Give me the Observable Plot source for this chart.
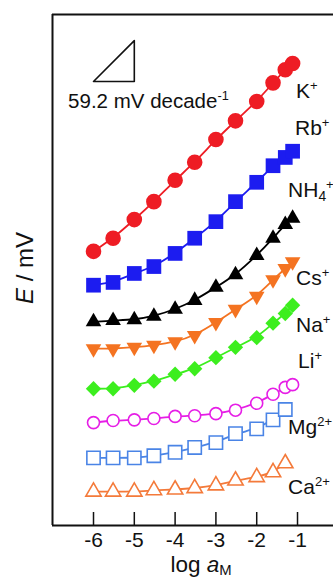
<!DOCTYPE html>
<html><head><meta charset="utf-8">
<script src="https://cdn.jsdelivr.net/npm/d3@7"></script>
<script src="https://cdn.jsdelivr.net/npm/@observablehq/plot@0.6"></script>
<style>
body{margin:0;background:#fff;}
#chart{width:333px;height:580px;overflow:hidden;}
</style>
</head><body><div id="chart"></div>
<script>
// ---- data ----
const logA = [-6, -5.52, -5, -4.52, -4, -3.52, -3, -2.52, -2, -1.6, -1.3, -1.12];
const eK  = [397, 416, 443, 469, 500, 526, 559, 586, 614, 641, 660, 669];
const eRb = [348, 352, 365, 375, 394, 416, 440, 469, 497, 521, 533, 542];
const eNH4 = [295, 297, 298, 303, 313, 326, 345, 363, 391, 416, 436, 445];
const eCs = [256, 256, 258, 261, 266, 275, 294, 313, 332, 356, 372, 382];
const eNa = [198, 198, 203, 209, 219, 227, 243, 258, 272, 293, 307, 319];
const eLi = [149, 152, 153, 155, 158, 159, 162, 167, 177, 190, 200, 204];
const eMg = [98, 98, 98, 101, 106, 113, 120, 133, 140, 153, 168];
const eCa = [49, 49, 49, 51, 52, 54, 58, 65, 70, 77, 90];

const ionBase = ["K", "Rb", "NH", "Cs", "Na", "Li", "Mg", "Ca"];
const ionSub  = ["", "", "4", "", "", "", "", ""];
const ionSup  = ["+", "+", "+", "+", "+", "+", "2+", "2+"];
const labelLogA = [-1.025, -1.05, -1.22, -1.025, -1.025, -0.975, -1.22, -1.22];
const labelE    = [618, 565, 475, 347, 279, 227, 132, 45];

const xTicks = [-6, -5, -4, -3, -2, -1];
const xDomain = [-7.005, -0.118];
const yDomain = [0, 740];
const slope = 59.2;              // mV per decade
const slopeAnchor = [-6, 643];   // lower-left corner of slope triangle
const slopeText = ["59.2 mV decade", "-1"];
const slopeTextPos = [-6.61, 604];

// ---- styles ----
const FONT = "'Liberation Sans', Arial, Helvetica, sans-serif";
const downTri = {
  draw(ctx, size) {
    const y = -Math.sqrt(size / (Math.sqrt(3) * 3));
    ctx.moveTo(0, -y * 2);
    ctx.lineTo(-Math.sqrt(3) * y, y);
    ctx.lineTo(Math.sqrt(3) * y, y);
    ctx.closePath();
  }
};
const series = [
  {v: eK,  color: "#ee1c24", symbol: "circle",   r: 7.8, open: false},
  {v: eRb, color: "#1c1cf0", symbol: "square",   r: 8.3, open: false},
  {v: eNH4, color: "#000000", symbol: "triangle", r: 5.8, open: false},
  {v: eCs, color: "#f47321", symbol: downTri,    r: 5.8, open: false},
  {v: eNa, color: "#3cee1e", symbol: "diamond2", r: 6.9, open: false},
  {v: eLi, color: "#e61ee6", symbol: "circle",   r: 6.0, open: true},
  {v: eMg, color: "#4a84e6", symbol: "square",   r: 7.5, open: true},
  {v: eCa, color: "#f47a3a", symbol: "triangle", r: 5.7, open: true}
];

const marks = [];
// frame (top, bottom, left)
marks.push(Plot.ruleY(yDomain, {y: d => d, stroke: "#111", strokeWidth: 2}));
marks.push(Plot.ruleX([xDomain[0]], {x: d => d, stroke: "#111", strokeWidth: 2}));
// inward ticks
marks.push(Plot.ruleX(xTicks, {x: d => d, insetTop: 498, stroke: "#111", strokeWidth: 1.5}));
marks.push(Plot.axisX({ticks: xTicks, tickSize: 0, tickPadding: 7, tickFormat: d => String(d), label: null, fontSize: 21}));
// slope triangle
const tri = [
  {x: slopeAnchor[0], y: slopeAnchor[1]},
  {x: slopeAnchor[0] + 1, y: slopeAnchor[1]},
  {x: slopeAnchor[0] + 1, y: slopeAnchor[1] + slope},
  {x: slopeAnchor[0], y: slopeAnchor[1]}
];
marks.push(Plot.line(tri, {x: "x", y: "y", stroke: "#111", strokeWidth: 1.6}));

for (const s of series) {
  const rows = s.v.map((e, i) => ({x: logA[i], y: e}));
  marks.push(Plot.line(rows, {x: "x", y: "y", stroke: s.color, strokeWidth: 1.8, curve: "basis"}));
  marks.push(Plot.dot(rows, {
    x: "x", y: "y", symbol: () => s.symbol, r: s.r,
    fill: s.open ? "white" : s.color,
    stroke: s.color, strokeWidth: s.open ? 1.6 : 0
  }));
}

const chart = Plot.plot({
  width: 333, height: 580,
  marginLeft: 52, marginRight: 0, marginTop: 14, marginBottom: 55,
  x: {domain: xDomain, axis: null},
  y: {domain: yDomain, axis: null},
  symbol: {type: "identity"},
  style: {fontFamily: FONT, fontSize: "21px", color: "#111", background: "white"},
  marks
});
document.getElementById("chart").appendChild(chart);

// ---- rich-text labels placed via the plot's scales ----
const sx = chart.scale("x"), sy = chart.scale("y");
const svg = d3.select(chart);
function rich(x, y, parts, size, anchor, rotate, subShift = 0.18) {
  const t = svg.append("text")
    .attr("x", x).attr("y", y)
    .attr("font-family", FONT).attr("font-size", size).attr("fill", "#111")
    .attr("text-anchor", anchor || "start");
  if (rotate) t.attr("transform", `rotate(${rotate},${x},${y})`);
  let off = 0;
  for (const p of parts) {
    if (!p.t) continue;
    const sp = t.append("tspan").text(p.t);
    let target = 0;
    if (p.sup) { target = -size * 0.38; sp.attr("font-size", size * 0.62); }
    if (p.sub) { target = size * subShift; sp.attr("font-size", size * 0.66); }
    if (p.it) sp.attr("font-style", "italic");
    if (target !== off) { sp.attr("dy", target - off); off = target; }
  }
  return t;
}
ionBase.forEach((b, i) => {
  rich(sx.apply(labelLogA[i]), sy.apply(labelE[i]),
    [{t: b}, {t: ionSub[i], sub: true}, {t: ionSup[i], sup: true}], 21);
});
rich(sx.apply(slopeTextPos[0]), sy.apply(slopeTextPos[1]),
  [{t: slopeText[0]}, {t: slopeText[1], sup: true}], 20.5);
// axis titles
rich(201, 572, [{t: "log "}, {t: "a", it: true}, {t: "M", sub: true}], 22.5, "middle", 0, 0.15);
rich(33, 268, [{t: "E", it: true}, {t: " / mV"}], 24, "middle", -90);
</script>
</body></html>
